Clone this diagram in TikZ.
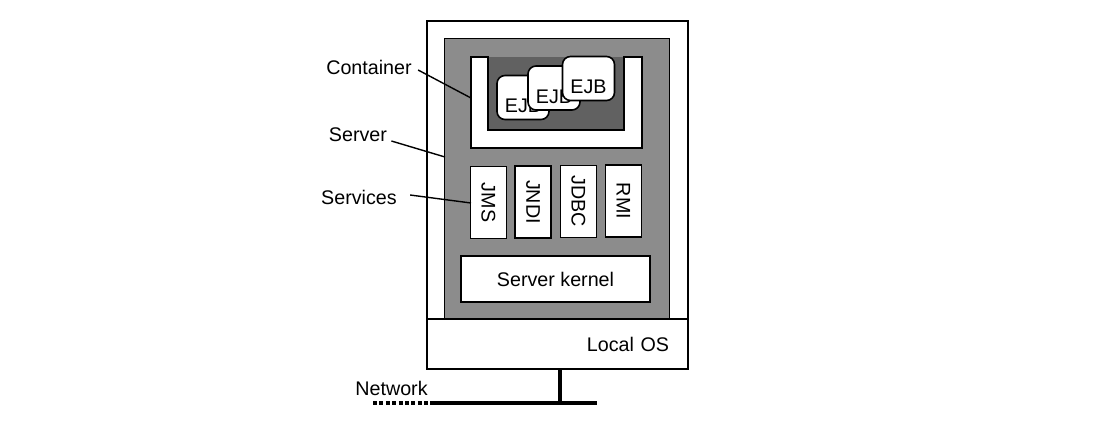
\documentclass[tikz,border=0pt]{standalone}
\usepackage{fontspec}
\setmainfont{Liberation Sans}
\begin{document}
\begin{tikzpicture}[x=0.5pt,y=-0.5pt,
  every node/.style={font=\fontsize{9.85}{11}\selectfont},
  box/.style={draw=black,fill=white,line width=0.8pt,inner sep=0pt},
  ejb/.style={box,rounded corners=4pt,minimum width=26pt,minimum height=22pt,text height=15pt,text depth=0pt},
  svc/.style={box,minimum width=18pt,minimum height=36pt},
  lbl/.style={inner sep=0pt},
  leader/.style={line width=0.7pt},
  net/.style={line width=1.8pt}]
\useasboundingbox (0,0) rectangle (1114,435);
\fill[white] (0,0) rectangle (1114,435);
% server machine
\node[box,line width=1.1pt,minimum width=130.5pt,minimum height=174pt,anchor=north west] (machine) at (426,20) {};
\node[draw=black,fill=black!45,line width=0.5pt,inner sep=0pt,minimum width=112.5pt,minimum height=140pt,anchor=north west] (serverreg) at (444,38) {};
% container
\fill[black!62] (488,57) rectangle (624,130);
\filldraw[fill=white,line width=0.8pt] (471,57) -- (471,148) -- (642,148) -- (642,57) -- (624,57) -- (624,130) -- (488,130) -- (488,57) -- cycle;
% EJBs
\node[ejb] (ejb1) at (523,97.5) {EJB};
\node[ejb] (ejb2) at (554,88) {EJB};
\node[ejb] (ejb3) at (588.5,78.5) {EJB};
% services
\node[svc] (jms) at (488.5,202.5) {\rotatebox{-90}{JMS}};
\node[svc] (jndi) at (533,202) {\rotatebox{-90}{JNDI}};
\node[svc] (jdbc) at (578.5,201.5) {\rotatebox{-90}{JDBC}};
\node[svc] (rmi) at (623.5,201) {\rotatebox{-90}{RMI}};
% kernel
\node[box,minimum width=94.5pt,minimum height=23pt] (kernel) at (555.5,279) {Server kernel};
% local OS
\node[box,line width=1.1pt,minimum width=130.5pt,minimum height=25pt,anchor=north west,text width=111.5pt,align=right] (localos) at (426,318) {Local OS};
% labels
\node[lbl] (clab) at (369,67) {Container};
\node[lbl] (slab) at (358,135) {Server};
\node[lbl] (svlab) at (359,197) {Services};
\coordinate (cpt) at (471,98);
\coordinate (spt) at (445,157);
\coordinate (svpt) at (471,203);
\draw[leader] ([xshift=3pt,yshift=-1.5pt]clab.east) -- (cpt);
\draw[leader] ([xshift=2pt,yshift=-3pt]slab.east) -- (spt);
\draw[leader] ([xshift=6.5pt,yshift=1pt]svlab.east) -- (svpt);
% network
\node[lbl] (nlab) at (391.5,388) {Network};
\coordinate (n1) at (373,403);
\coordinate (n2) at (430,403);
\coordinate (n3) at (597,403);
\coordinate (tap) at (560,403);
\draw[net] (localos.south -| tap) -- (tap);
\draw[net] (n2) -- (n3);
\draw[net,dash pattern=on 2pt off 1.2pt] (n1) -- (n2);
\end{tikzpicture}
\end{document}
